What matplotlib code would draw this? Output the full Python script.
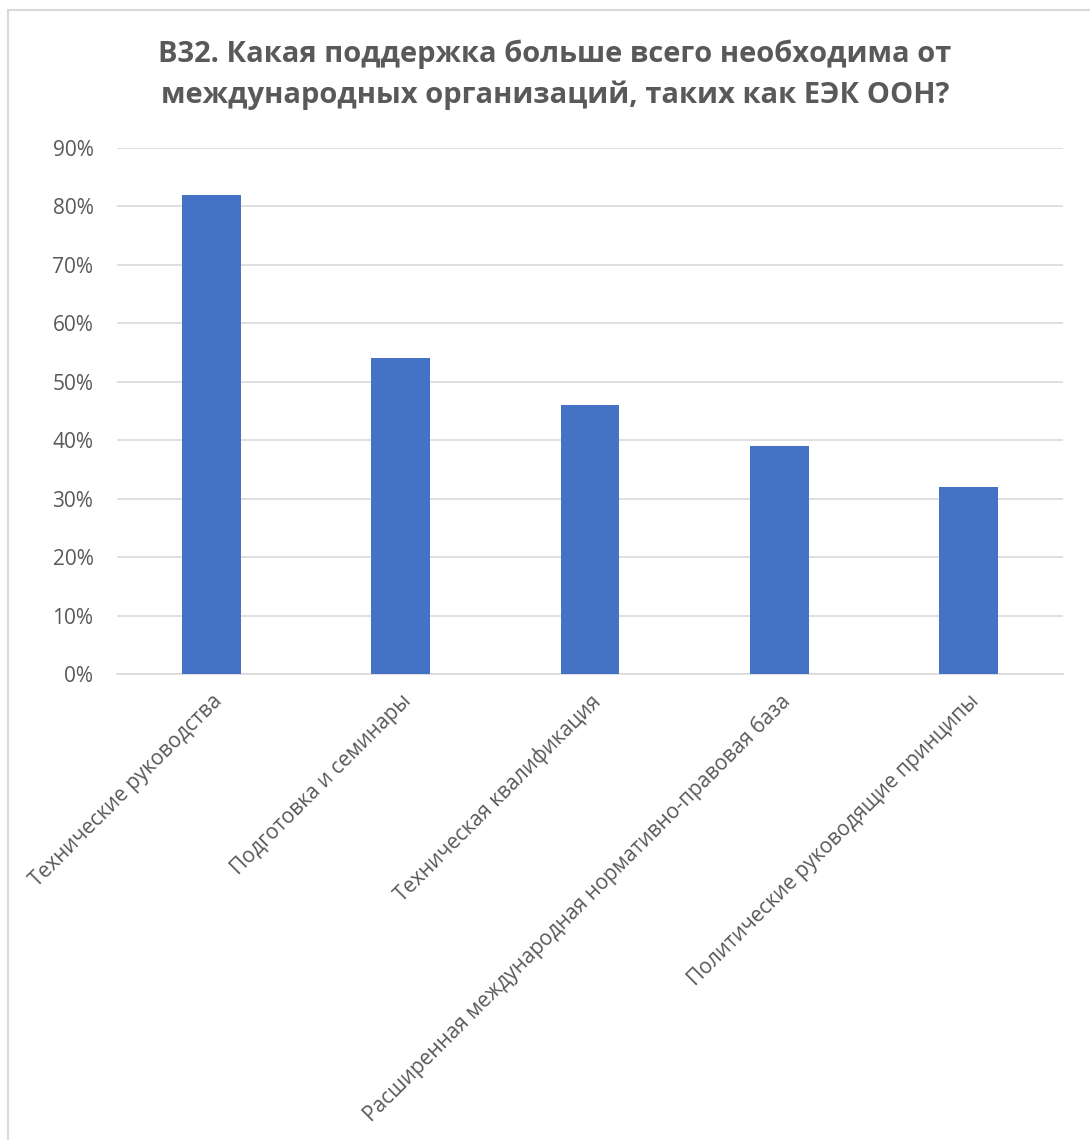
import matplotlib
import matplotlib.pyplot as plt
from matplotlib.patches import Rectangle
from matplotlib.ticker import FuncFormatter

plt.rcParams['font.family'] = ['Open Sans', 'DejaVu Sans']

categories = ['Технические руководства',
              'Подготовка и семинары',
              'Техническая квалификация',
              'Расширенная международная нормативно-правовая база',
              'Политические руководящие принципы']
values = [82, 54, 46, 39, 32]
title = 'B32. Какая поддержка больше всего необходима от\nмеждународных организаций, таких как ЕЭК ООН?'

W, H = 1090, 1140
fig = plt.figure(figsize=(W / 100, H / 100), dpi=100)

# chart frame (only left/top visible in the crop)
fig.patches.append(Rectangle((7.5 / W, -0.01), 1.2, (H - 9.5) / H + 0.01,
                             transform=fig.transFigure, fill=False,
                             edgecolor='#d9d9d9', linewidth=1.5))

ax = fig.add_axes([117 / W, 1 - 674 / H, (1063 - 117) / W, (674 - 148) / H])
x = range(len(categories))
ax.bar(x, values, width=0.31, color='#4472C4', zorder=3)
ax.set_xlim(-0.5, len(categories) - 0.5)
ax.set_ylim(0, 90)
ax.set_yticks(range(0, 91, 10))
ax.yaxis.set_major_formatter(FuncFormatter(lambda v, p: '%d%%' % v))
ax.grid(axis='y', color='#d9d9d9', linewidth=1.2, zorder=0)
for s in ['top', 'right', 'left']:
    ax.spines[s].set_visible(False)
ax.spines['bottom'].set_color('#d9d9d9')
ax.spines['bottom'].set_linewidth(1.2)
ax.tick_params(axis='both', length=0, labelsize=15, colors='#595959')
ax.tick_params(axis='y', pad=17)
ax.set_xticks(list(x))
ax.set_xticklabels(categories, rotation=45, ha='right', va='top',
                   rotation_mode='anchor')
ax.tick_params(axis='x', pad=12)

fig.text(555 / W, 1 - 75 / H, title, ha='center', va='center',
         fontsize=21, fontweight='bold', color='#595959', linespacing=1.5)

fig.savefig('out.png', dpi=100, facecolor='white')
